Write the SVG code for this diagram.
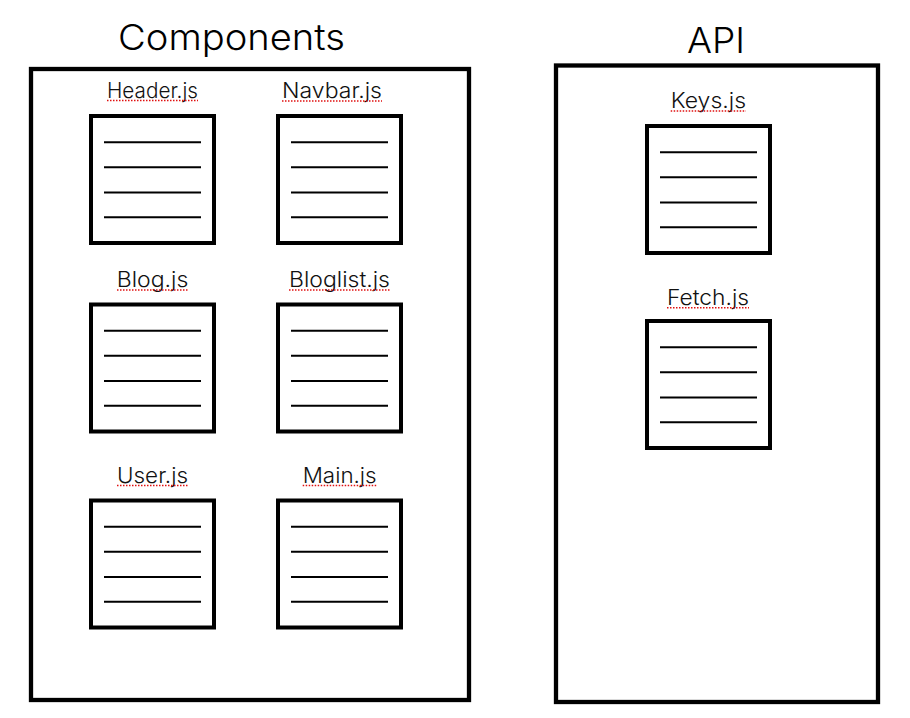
<svg xmlns="http://www.w3.org/2000/svg" xmlns:xlink="http://www.w3.org/1999/xlink" width="910" height="718" viewBox="0 0 910 718">
  <style>
    .frame { fill: #ffffff; stroke: #000000; stroke-width: 4.3; }
    .box { fill: #ffffff; stroke: #000000; stroke-width: 4; }
    .rule { stroke: #000000; stroke-width: 2; }
    .title { font-family: Inter, "Liberation Sans", Arial, sans-serif; font-weight: 300; font-size: 36px; fill: #000000; }
    .label { font-family: Inter, "Liberation Sans", Arial, sans-serif; font-weight: 300; font-size: 21.5px; fill: #111111; }
    .spell { stroke: #e01010; stroke-width: 1.5; stroke-dasharray: 1.5 1.5; fill: none; }
  </style>
  <defs>
    <g id="doc">
      <rect class="box" x="0" y="0" width="123" height="127"/>
      <line class="rule" x1="13" y1="26.3" x2="110" y2="26.3"/>
      <line class="rule" x1="13" y1="51.3" x2="110" y2="51.3"/>
      <line class="rule" x1="13" y1="76.5" x2="110" y2="76.5"/>
      <line class="rule" x1="13" y1="101.3" x2="110" y2="101.3"/>
    </g>
  </defs>
  <rect width="910" height="718" fill="#ffffff"/>

  <g id="components">
    <rect class="frame" x="31" y="69" width="438" height="631"/>
    <text class="title" x="231.5" y="50" text-anchor="middle" textLength="227" lengthAdjust="spacingAndGlyphs">Components</text>
  </g>

  <g id="api">
    <rect class="frame" x="556" y="65.5" width="322" height="636.5"/>
    <text class="title" x="716" y="52.7" text-anchor="middle" font-size="38" textLength="58" lengthAdjust="spacingAndGlyphs">API</text>
  </g>

  <g id="header-js">
    <text class="label" x="152.5" y="97.7" text-anchor="middle" textLength="91" lengthAdjust="spacingAndGlyphs">Header.js</text>
    <line class="spell" x1="107" y1="100.5" x2="198" y2="100.5"/>
    <use xlink:href="#doc" href="#doc" x="91" y="116"/>
  </g>

  <g id="navbar-js">
    <text class="label" x="332" y="98" text-anchor="middle" textLength="100" lengthAdjust="spacingAndGlyphs">Navbar.js</text>
    <line class="spell" x1="282" y1="101" x2="382" y2="101"/>
    <use xlink:href="#doc" href="#doc" x="278" y="116"/>
  </g>

  <g id="blog-js">
    <text class="label" x="152.5" y="287.3" text-anchor="middle" textLength="71.6" lengthAdjust="spacingAndGlyphs">Blog.js</text>
    <line class="spell" x1="117" y1="290" x2="188" y2="290"/>
    <use xlink:href="#doc" href="#doc" x="91" y="304.5"/>
  </g>

  <g id="bloglist-js">
    <text class="label" x="339.5" y="287.3" text-anchor="middle" textLength="101" lengthAdjust="spacingAndGlyphs">Bloglist.js</text>
    <line class="spell" x1="289" y1="290" x2="390" y2="290"/>
    <use xlink:href="#doc" href="#doc" x="278" y="304.5"/>
  </g>

  <g id="user-js">
    <text class="label" x="152.5" y="482.7" text-anchor="middle" textLength="71" lengthAdjust="spacingAndGlyphs">User.js</text>
    <line class="spell" x1="117" y1="485.5" x2="188" y2="485.5"/>
    <use xlink:href="#doc" href="#doc" x="91" y="500.5"/>
  </g>

  <g id="main-js">
    <text class="label" x="339.7" y="482.7" text-anchor="middle" textLength="74" lengthAdjust="spacingAndGlyphs">Main.js</text>
    <line class="spell" x1="302.7" y1="485.5" x2="376.7" y2="485.5"/>
    <use xlink:href="#doc" href="#doc" x="278" y="500.5"/>
  </g>

  <g id="keys-js">
    <text class="label" x="708.4" y="108.3" text-anchor="middle" textLength="75.3" lengthAdjust="spacingAndGlyphs">Keys.js</text>
    <line class="spell" x1="670.7" y1="111" x2="746" y2="111"/>
    <use xlink:href="#doc" href="#doc" x="647" y="126"/>
  </g>

  <g id="fetch-js">
    <text class="label" x="708" y="305" text-anchor="middle" textLength="82" lengthAdjust="spacingAndGlyphs">Fetch.js</text>
    <line class="spell" x1="667" y1="307.8" x2="749" y2="307.8"/>
    <use xlink:href="#doc" href="#doc" x="647" y="321"/>
  </g>

  <g id="connectors"/>
</svg>
